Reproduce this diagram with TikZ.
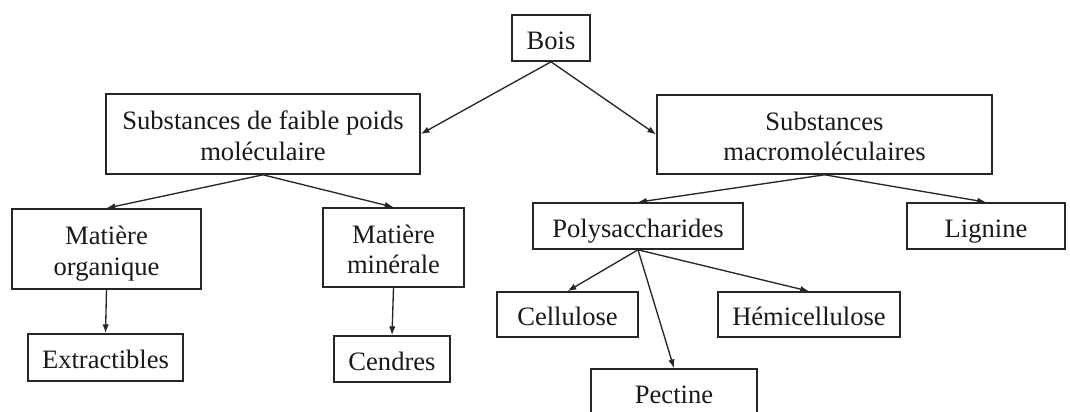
\documentclass[tikz,border=0pt]{standalone}
\usepackage{fontspec}
\setmainfont{Liberation Serif}
\usetikzlibrary{arrows.meta}
\newcommand{\pxu}{0.025cm}
% texte des cases, un peu plus bas que le centre
\newcommand{\boxtxt}[1]{\raisebox{-0.125cm}[\height][\depth]{\begin{tabular}{@{}c@{}}#1\end{tabular}}}
\tikzset{box/.style={draw=black!85,rectangle,line width=1.15pt,inner sep=0pt,
  font=\fontsize{18.9}{21.5}\selectfont,text=black!90},
  bx/.style 2 args={box,minimum width=#1*\pxu,minimum height=#2*\pxu},
  arr/.style={draw=black!85,line width=0.95pt,-{Latex[length=2.2mm,width=1.6mm]}}}

\begin{document}
\begin{tikzpicture}[x=\pxu,y=-\pxu]
          \useasboundingbox (0,0) rectangle (1070,412);

          % racine
          \node[bx={78}{46}] (bois) at (551,38) {\boxtxt{Bois}};

          % niveau 1
          \node[bx={314}{80}] (faible) at (263,134) {\boxtxt{Substances de faible poids\\ moléculaire}};
          \node[bx={335}{79}] (macro) at (824.5,134.5) {\boxtxt{Substances\\ macromoléculaires}};

          % niveau 2
          \node[bx={189}{80}] (organique) at (106.5,249) {\boxtxt{Matière\\ organique}};
          \node[bx={141}{79}] (minerale) at (393.5,247.5) {\boxtxt{Matière\\ minérale}};
          \node[bx={210}{46}] (poly) at (638,226) {\boxtxt{Polysaccharides}};
          \node[bx={158}{46}] (lignine) at (986,226) {\boxtxt{Lignine}};

          % niveau 3
          \node[bx={155}{47}] (extract) at (105.5,357.5) {\boxtxt{Extractibles}};
          \node[bx={116}{46}] (cendres) at (392,359) {\boxtxt{Cendres}};
          \node[bx={141}{45}] (cellulose) at (567.5,314.5) {\boxtxt{Cellulose}};
          \node[bx={182}{45}] (hemi) at (809,314.5) {\boxtxt{Hémicellulose}};
          \node[bx={166}{46}] (pectine) at (674,392) {\boxtxt{Pectine}};

          \draw[arr] (bois.south) -- (faible.east);
          \draw[arr] (bois.south) -- (macro.west);
          \draw[arr] (faible.south) -- (organique.north);
          \draw[arr] (faible.south) -- (minerale.north);
          \draw[arr] (macro.south) -- (poly.north);
          \draw[arr] (macro.south) -- (lignine.north);
          \draw[arr] (organique.south) -- (extract.north);
          \draw[arr] (minerale.south) -- (cendres.north);
          \draw[arr] (poly.south) -- (cellulose.north);
          \draw[arr] (poly.south) -- (hemi.north);
          \draw[arr] (poly.south) -- (pectine.north);
        \end{tikzpicture}
\end{document}
